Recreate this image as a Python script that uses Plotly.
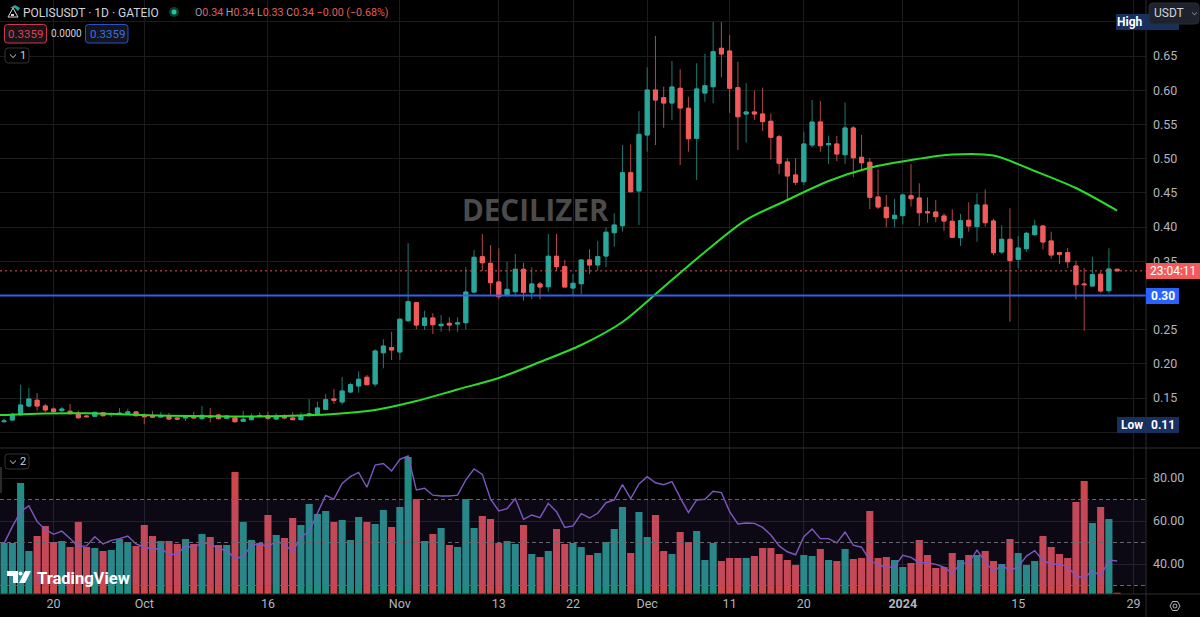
import pandas as pd
import plotly.graph_objects as go
from plotly.subplots import make_subplots

# daily candles
start_date = "2023-09-14"
opens = [
    .1154, .1178, .1256, .1383, .1467, .1383, .1339, .1315, .1306, .1277,
    .1237, .1233, .1285, .1256, .1266, .1277, .1296, .1241, .1237, .1222,
    .1233, .1208, .1208, .1233, .1198, .1237, .1252, .1203, .1212, .1159,
    .1183, .1241, .1241, .1193, .1241, .1208, .1183, .1241, .1271, .1335,
    .1486, .1442, .1588, .1676, .1803, .1705, .2162, .2236, .2173, .2630,
    .2894, .2563, .2670, .2557, .2592, .2582, .2601, .3050, .3566, .3469,
    .3196, .3006, .3054, .3382, .3046, .3167, .3127, .3572, .3420, .3108,
    .3171, .3518, .3445, .3576, .3917, .4019, .4794, .4527, .5345, .6003,
    .5891, .5813, .6028, .5736, .5297, .5959, .6051, .6613, .6573, .6037,
    .5652, .5682, .5652, .5546, .5320, .4951, .4761, .4663, .5199, .5535,
    .5203, .5214, .5057, .5448, .5019, .4946, .4439, .4288, .4122, .4166,
    .4458, .4424, .4224, .4219, .4161, .4084, .3844, .4098, .4005, .4322,
    .4088, .3635, .3820, .3528, .3683, .3888, .4015, .3796, .3625, .3625,
    .3430, .3167, .3138, .3309, .3069, .3382,
]
highs = [
    .1198, .1285, .1695, .1647, .1573, .1413, .1364, .1369, .1413, .1315,
    .1247, .1300, .1296, .1285, .1354, .1344, .1310, .1277, .1306, .1296,
    .1281, .1222, .1252, .1296, .1383, .1354, .1266, .1247, .1237, .1310,
    .1277, .1291, .1300, .1277, .1262, .1291, .1291, .1486, .1446, .1559,
    .1632, .1807, .1724, .1891, .1837, .2212, .2358, .2469, .2666, .3762,
    .2894, .2777, .2739, .2714, .2680, .2680, .3411, .3664, .3898, .3737,
    .3689, .3493, .3606, .3478, .3411, .3201, .3898, .3898, .3518, .3313,
    .3518, .3674, .3796, .3996, .4200, .5199, .5209, .5696, .6335, .6793,
    .6051, .6427, .6306, .5905, .6394, .6530, .6997, .6997, .6807, .6417,
    .6101, .5993, .6037, .5663, .5345, .5005, .5005, .5394, .5857, .5842,
    .5335, .5331, .5818, .5477, .5345, .5009, .4844, .4468, .4410, .4493,
    .4921, .4639, .4434, .4395, .4200, .4259, .4190, .4361, .4493, .4551,
    .4122, .4025, .4274, .3869, .3932, .4103, .4015, .3932, .3625, .3693,
    .3508, .3401, .3566, .3347, .3689, .3382,
]
lows = [
    .1139, .1168, .1237, .1364, .1315, .1291, .1285, .1291, .1262, .1198,
    .1218, .1222, .1233, .1222, .1262, .1256, .1233, .1116, .1212, .1218,
    .1178, .1183, .1164, .1198, .1183, .1145, .1183, .1193, .1139, .1149,
    .1178, .1212, .1174, .1178, .1198, .1178, .1178, .1233, .1252, .1325,
    .1413, .1402, .1569, .1578, .1686, .1665, .1934, .2056, .2056, .2616,
    .2505, .2494, .2436, .2469, .2475, .2469, .2505, .3031, .3361, .3006,
    .2943, .2981, .2981, .2923, .2948, .2943, .3054, .3361, .3123, .3006,
    .3021, .3313, .3361, .3411, .3712, .3932, .4507, .4029, .5101, .5199,
    .5452, .5560, .4907, .5101, .4687, .5832, .5809, .6189, .5671, .5126,
    .5233, .5565, .5404, .4990, .4771, .4395, .4614, .4614, .5160, .5101,
    .4921, .4965, .4921, .4727, .4834, .4263, .4263, .3995, .3995, .4040,
    .4297, .4015, .4063, .4069, .3946, .3835, .3722, .3932, .3785, .4005,
    .3586, .3606, .2616, .3396, .3639, .3873, .3674, .3537, .3459, .3401,
    .2943, .2484, .3127, .3040, .3031, .3361,
]
closes = [
    .1164, .1262, .1398, .1486, .1383, .1325, .1300, .1339, .1271, .1212,
    .1227, .1291, .1241, .1271, .1277, .1296, .1241, .1227, .1222, .1233,
    .1193, .1193, .1227, .1208, .1247, .1222, .1198, .1237, .1154, .1189,
    .1233, .1233, .1203, .1233, .1208, .1183, .1241, .1271, .1354, .1475,
    .1467, .1602, .1695, .1774, .1695, .2187, .2260, .2202, .2651, .2908,
    .2567, .2670, .2572, .2578, .2567, .2597, .3050, .3557, .3478, .3186,
    .2981, .3089, .3382, .3046, .3167, .3123, .3572, .3420, .3123, .3177,
    .3518, .3445, .3566, .3923, .4029, .4794, .4516, .5355, .6003, .5857,
    .5813, .6047, .5740, .5291, .6018, .6066, .6563, .6530, .6028, .5613,
    .5682, .5652, .5540, .5312, .4932, .4746, .4654, .5214, .5535, .5189,
    .5218, .5067, .5448, .5013, .4940, .4435, .4293, .4136, .4171, .4468,
    .4414, .4209, .4209, .4151, .4088, .3850, .4092, .4015, .4322, .4063,
    .3625, .3820, .3508, .3693, .3908, .4015, .3781, .3591, .3601, .3493,
    .3157, .3157, .3303, .3065, .3386, .3359,
]
volumes = [
    51, 51, 111, 43, 58, 68, 52, 53, 47, 72,
    47, 46, 43, 44, 55, 52, 48, 69, 58, 53,
    53, 50, 55, 50, 60, 57, 49, 49, 122, 72,
    54, 51, 79, 59, 56, 76, 69, 90, 80, 83,
    72, 74, 54, 77, 72, 70, 84, 67, 87, 137,
    95, 53, 60, 66, 49, 47, 95, 66, 78, 75,
    51, 53, 50, 69, 40, 37, 43, 65, 50, 51,
    47, 39, 41, 52, 65, 87, 41, 82, 57, 79,
    43, 40, 62, 52, 63, 34, 51, 33, 36, 36,
    36, 38, 46, 46, 40, 34, 29, 39, 38, 45,
    34, 33, 45, 35, 36, 83, 36, 37, 34, 27,
    31, 54, 39, 26, 27, 41, 34, 39, 39, 43,
    33, 30, 55, 41, 29, 33, 58, 47, 40, 36,
    92, 113, 71, 87, 75, 1.3,
]
rsi = [
    49.6, 57.4, 64.3, 67.1, 59.7, 56.1, 53.8, 55.3, 51.9, 48.1,
    48.4, 52.7, 49.3, 51.0, 51.8, 53.0, 49.3, 47.8, 47.0, 47.1,
    44.5, 44.5, 48.5, 47.6, 49.9, 49.5, 47.1, 46.4, 42.5, 43.4,
    48.8, 49.3, 48.1, 50.5, 49.3, 45.6, 52.7, 55.0, 63.6, 71.9,
    70.2, 77.5, 80.6, 82.6, 75.7, 86.0, 86.7, 83.3, 88.7, 90.2,
    74.4, 75.2, 72.0, 71.6, 71.6, 72.0, 79.1, 84.2, 81.7, 70.1,
    64.7, 65.7, 70.4, 60.8, 62.8, 61.6, 68.2, 64.3, 57.0, 57.7,
    63.4, 61.4, 63.6, 68.5, 69.8, 76.9, 70.4, 77.2, 80.6, 77.8,
    76.9, 78.3, 70.9, 63.9, 69.8, 70.1, 73.8, 73.2, 64.3, 58.6,
    59.1, 58.9, 57.0, 53.5, 48.4, 45.7, 44.3, 52.7, 56.3, 51.8,
    51.8, 49.8, 54.9, 48.8, 47.8, 41.6, 39.8, 38.3, 38.8, 44.0,
    43.1, 40.6, 40.6, 39.8, 38.6, 35.7, 40.3, 40.5, 46.4, 41.1,
    36.4, 39.5, 36.9, 38.8, 43.7, 46.2, 41.6, 40.0, 39.8, 38.8,
    34.4, 33.5, 36.9, 34.4, 41.9, 41.4,
]
# moving average, read every fifth day
ma_start = "2023-09-09"
ma_values = [
    .1244, .1252, .1274, .1277, .1259, .1241, .1233, .1230, .1241, .1266,
    .1325, .1456, .1625, .1793, .2027, .2275, .2611, .3123, .3635, .4103,
    .4395, .4673, .4867, .4980, .5060, .5045, .4819, .4570, .4239,
]

x_ticks = ["2023-09-20", "2023-10-01", "2023-10-16", "2023-11-01", "2023-11-13", "2023-11-22",
           "2023-12-01", "2023-12-11", "2023-12-20", "2024-01-01", "2024-01-15", "2024-01-29"]
x_labels = ["20", "Oct", "16", "Nov", "13", "22", "Dec", "11", "20", "<b>2024</b>", "15", "29"]
price_ticks = [.10, .15, .20, .25, .30, .35, .40, .45, .50, .55, .60, .65, .70]
price_labels = ["", "0.15", "0.20", "0.25", "", "0.35", "0.40", "0.45", "0.50", "0.55", "0.60", "0.65", ""]
rsi_ticks = [40, 60, 80]
last_price = 0.3359
line_price = 0.30

GREEN = "#2aa79b"
RED = "#f15b5b"
TEXT = "#b2b5be"
GRID = "#1c1c1c"
EDGE = "#2e2e2e"
FONT = "Roboto"
W, H = 1146, 594


# screen pixels to paper coordinates, for the chrome around the chart
def px(x):
    return x / W


def py(y):
    return (H - y) / H


shapes = []
notes = []


def box(x0, y0, x1, y1, fill, edge=None, r=0):
    if r:
        a, b, c, d = px(x0), px(x1), py(y0), py(y1)
        rx, ry = r / W, r / H
        path = (f"M{a + rx},{c} L{b - rx},{c} Q{b},{c} {b},{c - ry} L{b},{d + ry} Q{b},{d} {b - rx},{d} "
                f"L{a + rx},{d} Q{a},{d} {a},{d + ry} L{a},{c - ry} Q{a},{c} {a + rx},{c} Z")
        shapes.append(dict(type="path", path=path, xref="paper", yref="paper", fillcolor=fill,
                           line=dict(color=edge or fill, width=1)))
    else:
        shapes.append(dict(type="rect", xref="paper", yref="paper", x0=px(x0), x1=px(x1), y0=py(y0), y1=py(y1),
                           fillcolor=fill, line=dict(color=edge or fill, width=1 if edge else 0)))


def poly(points, fill, edge=None, width=0):
    path = "M" + " L".join(f"{px(x)},{py(y)}" for x, y in points) + " Z"
    shapes.append(dict(type="path", path=path, xref="paper", yref="paper", fillcolor=fill,
                       line=dict(color=edge or fill, width=width)))


def note(x, y, text, size=12, color=TEXT, anchor="left", family=FONT):
    notes.append(dict(x=px(x), y=py(y), xref="paper", yref="paper", text=text, showarrow=False, xanchor=anchor,
                      yanchor="middle", font=dict(size=size, color=color, family=family)))


dates = pd.date_range(start_date, periods=len(closes))
ma_dates = pd.date_range(ma_start, periods=len(ma_values), freq="5D")
bar_colors = ["rgba(38,166,154,0.85)" if c >= o else "rgba(240,83,88,0.85)" for o, c in zip(opens, closes)]
body_tops = [max(o, c) for o, c in zip(opens, closes)]
body_bottoms = [min(o, c) for o, c in zip(opens, closes)]

fig = make_subplots(rows=2, cols=1, shared_xaxes=True, vertical_spacing=0, row_heights=[448, 146],
                    specs=[[{}], [{"secondary_y": True}]])

# wicks are dimmer than the bodies, plotly has one line colour per candle so draw twice
fig.add_trace(go.Candlestick(x=dates, open=opens, high=highs, low=lows, close=closes, whiskerwidth=0,
                             increasing=dict(fillcolor="#1f7a72", line=dict(color="#1f7a72", width=1)),
                             decreasing=dict(fillcolor="#b04a4a", line=dict(color="#b04a4a", width=1))), row=1, col=1)
fig.add_trace(go.Candlestick(x=dates, open=opens, high=body_tops, low=body_bottoms, close=closes, whiskerwidth=0,
                             increasing=dict(fillcolor=GREEN, line=dict(color=GREEN, width=1)),
                             decreasing=dict(fillcolor=RED, line=dict(color=RED, width=1))), row=1, col=1)
fig.add_trace(go.Scatter(x=ma_dates, y=ma_values, mode="lines",
                         line=dict(color="#2bdc2b", width=2, shape="spline", smoothing=0.8)), row=1, col=1)
fig.add_trace(go.Bar(x=dates, y=volumes, marker=dict(color=bar_colors, line=dict(width=0))),
              row=2, col=1, secondary_y=False)
fig.add_trace(go.Scatter(x=dates, y=rsi, mode="lines", line=dict(color="#7e57c2", width=1.4)),
              row=2, col=1, secondary_y=True)

# rsi band and its dashed levels
shapes.append(dict(type="rect", xref="paper", yref="y3", x0=0, x1=1, y0=30, y1=70,
                   fillcolor="rgba(126,87,194,0.1)", line=dict(width=0)))
for level in [70, 50, 30]:
    shapes.append(dict(type="line", xref="paper", yref="y3", x0=0, x1=1, y0=level, y1=level,
                       line=dict(color="#66666c", width=1, dash="4px,3px")))

# price lines
shapes.append(dict(type="line", xref="paper", yref="y", x0=0, x1=1, y0=last_price, y1=last_price,
                   line=dict(color="#d95555", width=1, dash="2px,3px")))
shapes.append(dict(type="line", xref="paper", yref="y", x0=0, x1=1, y0=line_price, y1=line_price,
                   line=dict(color="#2f62e8", width=2)))

# pane borders
shapes.append(dict(type="line", xref="paper", yref="paper", x0=1, x1=1, y0=-0.05, y1=1, line=dict(color=EDGE, width=1)))
shapes.append(dict(type="line", xref="paper", yref="paper", x0=0, x1=1200 / W, y0=0, y1=0, line=dict(color=EDGE, width=1)))
shapes.append(dict(type="line", xref="paper", yref="paper", x0=0, x1=1200 / W, y0=py(448), y1=py(448),
                   line=dict(color=EDGE, width=1)))

# axis labels on the right
box(1146, 263, 1200, 279, "#f15b5b")
note(1173, 271, "23:04:11", 12, "#ffffff", "center")
box(1146, 288, 1179, 304, "#2962ff")
note(1162.5, 296, "<b>0.30</b>", 12, "#ffffff", "center")
box(1117, 417, 1146, 433, "#16305f")
note(1131.5, 425, "<b>Low</b>", 12, "#ffffff", "center")
box(1146, 417, 1179, 433, "#16305f")
note(1162.5, 425, "<b>0.11</b>", 12, "#ffffff", "center")
box(1116, 14, 1179, 30, "#16305f")
note(1130, 22, "<b>High</b>", 12, "#ffffff", "center")
box(1149, 3, 1199, 24, "#1e222d", "#2a2e39", r=4)
note(1152, 13, "USDT", 12, "#d1d4dc")
poly([(1192, 12), (1194.5, 14.5), (1197, 12), (1197, 12.8), (1194.5, 15.3), (1192, 12.8)], "#b2b5be")

# header
poly([(8, 17), (13, 8), (18, 17)], "#000000", "#d1d4dc", 1)
box(11, 14, 14, 16, "#d1d4dc")
poly([(10, 8), (15, 5), (20, 8), (18, 11), (15, 8)], "#26a69a")
note(21, 12.5, "POLISUSDT · 1D · GATEIO", 12, "#d1d4dc")
shapes.append(dict(type="circle", xref="paper", yref="paper", x0=px(169), x1=px(179), y0=py(17), y1=py(7),
                   fillcolor="#0d3d33", line=dict(width=0)))
shapes.append(dict(type="circle", xref="paper", yref="paper", x0=px(171.5), x1=px(176.5), y0=py(14.5), y1=py(9.5),
                   fillcolor="#1fc99a", line=dict(width=0)))
red_span = "<span style='color:#e35d5b'>%s</span>"
note(193, 12.5, "O" + red_span % "0.34" + " H" + red_span % "0.34" + " L" + red_span % "0.33" + " C"
     + red_span % "0.34 −0.00 (−0.68%)", 10.7, "#9a9da6")
box(4.5, 24.5, 46.5, 43, "#1a1216", "#c7394f", r=3)
note(25.5, 34, "0.3359", 11.5, "#d8455c", "center")
note(66, 34, "0.0000", 10, "#d1d4dc", "center")
box(85.5, 24.5, 128, 43, "#12141e", "#2950c8", r=3)
note(107, 34, "0.3359", 11.5, "#3f6fe0", "center")

# pane number chips
for top, label in [(48, "1"), (454, "2")]:
    box(5, top, 29, top + 15, "#000000", "#333333", r=3)
    note(23, top + 7.5, label, 11, "#d1d4dc", "center")
    poly([(10, top + 6), (13, top + 9), (16, top + 6), (16, top + 7), (13, top + 10), (10, top + 7)], "#d1d4dc")
box(0, 467, 2, 493, "#2a2a2a")

# watermarks
note(535.5, 210, "<b>DECILIZER</b>", 29.5, "#4b4b4b", "center", "Open Sans")
note(35, 578, "<b>TradingView</b>", 16.5, "#ffffff", "left")
poly([(7, 571), (18, 571), (18, 583), (13, 583), (13, 576), (7, 576)], "#ffffff")
shapes.append(dict(type="circle", xref="paper", yref="paper", x0=px(18.5), x1=px(22.5), y0=py(575.5), y1=py(571.5),
                   fillcolor="#ffffff", line=dict(width=0)))
poly([(25, 571), (31, 571), (25, 583), (19, 583)], "#ffffff")

# settings gear
poly([(1170, 606), (1172.5, 601.5), (1177.5, 601.5), (1180, 606), (1177.5, 610.5), (1172.5, 610.5)],
     "#000000", "#b2b5be", 1)
shapes.append(dict(type="circle", xref="paper", yref="paper", x0=px(1173), x1=px(1177), y0=py(608), y1=py(604),
                   fillcolor="#000000", line=dict(color="#b2b5be", width=1)))

fig.update_layout(
    width=1200, height=617, margin=dict(l=0, r=54, t=0, b=23), paper_bgcolor="#000000", plot_bgcolor="#000000",
    showlegend=False, bargap=0.14, font=dict(family=FONT, size=12, color=TEXT),
    shapes=shapes, annotations=notes,
)
axis_x = dict(domain=[0, 1], range=["2023-09-13 12:00", "2024-01-30 12:00"], tickvals=x_ticks, ticktext=x_labels,
              showgrid=True, gridcolor=GRID, gridwidth=1, zeroline=False, showline=False, ticks="",
              rangeslider=dict(visible=False), tickfont=dict(size=12.5, color=TEXT))
fig.update_xaxes(axis_x, row=1, col=1)
fig.update_xaxes(axis_x, row=2, col=1)
fig.update_layout(
    yaxis=dict(side="right", range=[0.0769, 0.7319], tickvals=price_ticks, ticktext=price_labels, gridcolor=GRID,
               zeroline=False, showline=False, ticks="", ticklabelstandoff=6, tickfont=dict(size=12.5, color=TEXT)),
    yaxis2=dict(range=[0, 146], visible=False, showgrid=False),
    yaxis3=dict(side="right", range=[26.05, 93.95], tickvals=rsi_ticks, tickformat=".2f", gridcolor=GRID,
                zeroline=False, showline=False, ticks="", ticklabelstandoff=6, tickfont=dict(size=12.5, color=TEXT)),
)

fig.write_html("out.html", config={"displayModeBar": False}, post_script="document.body.style.margin='0';")
